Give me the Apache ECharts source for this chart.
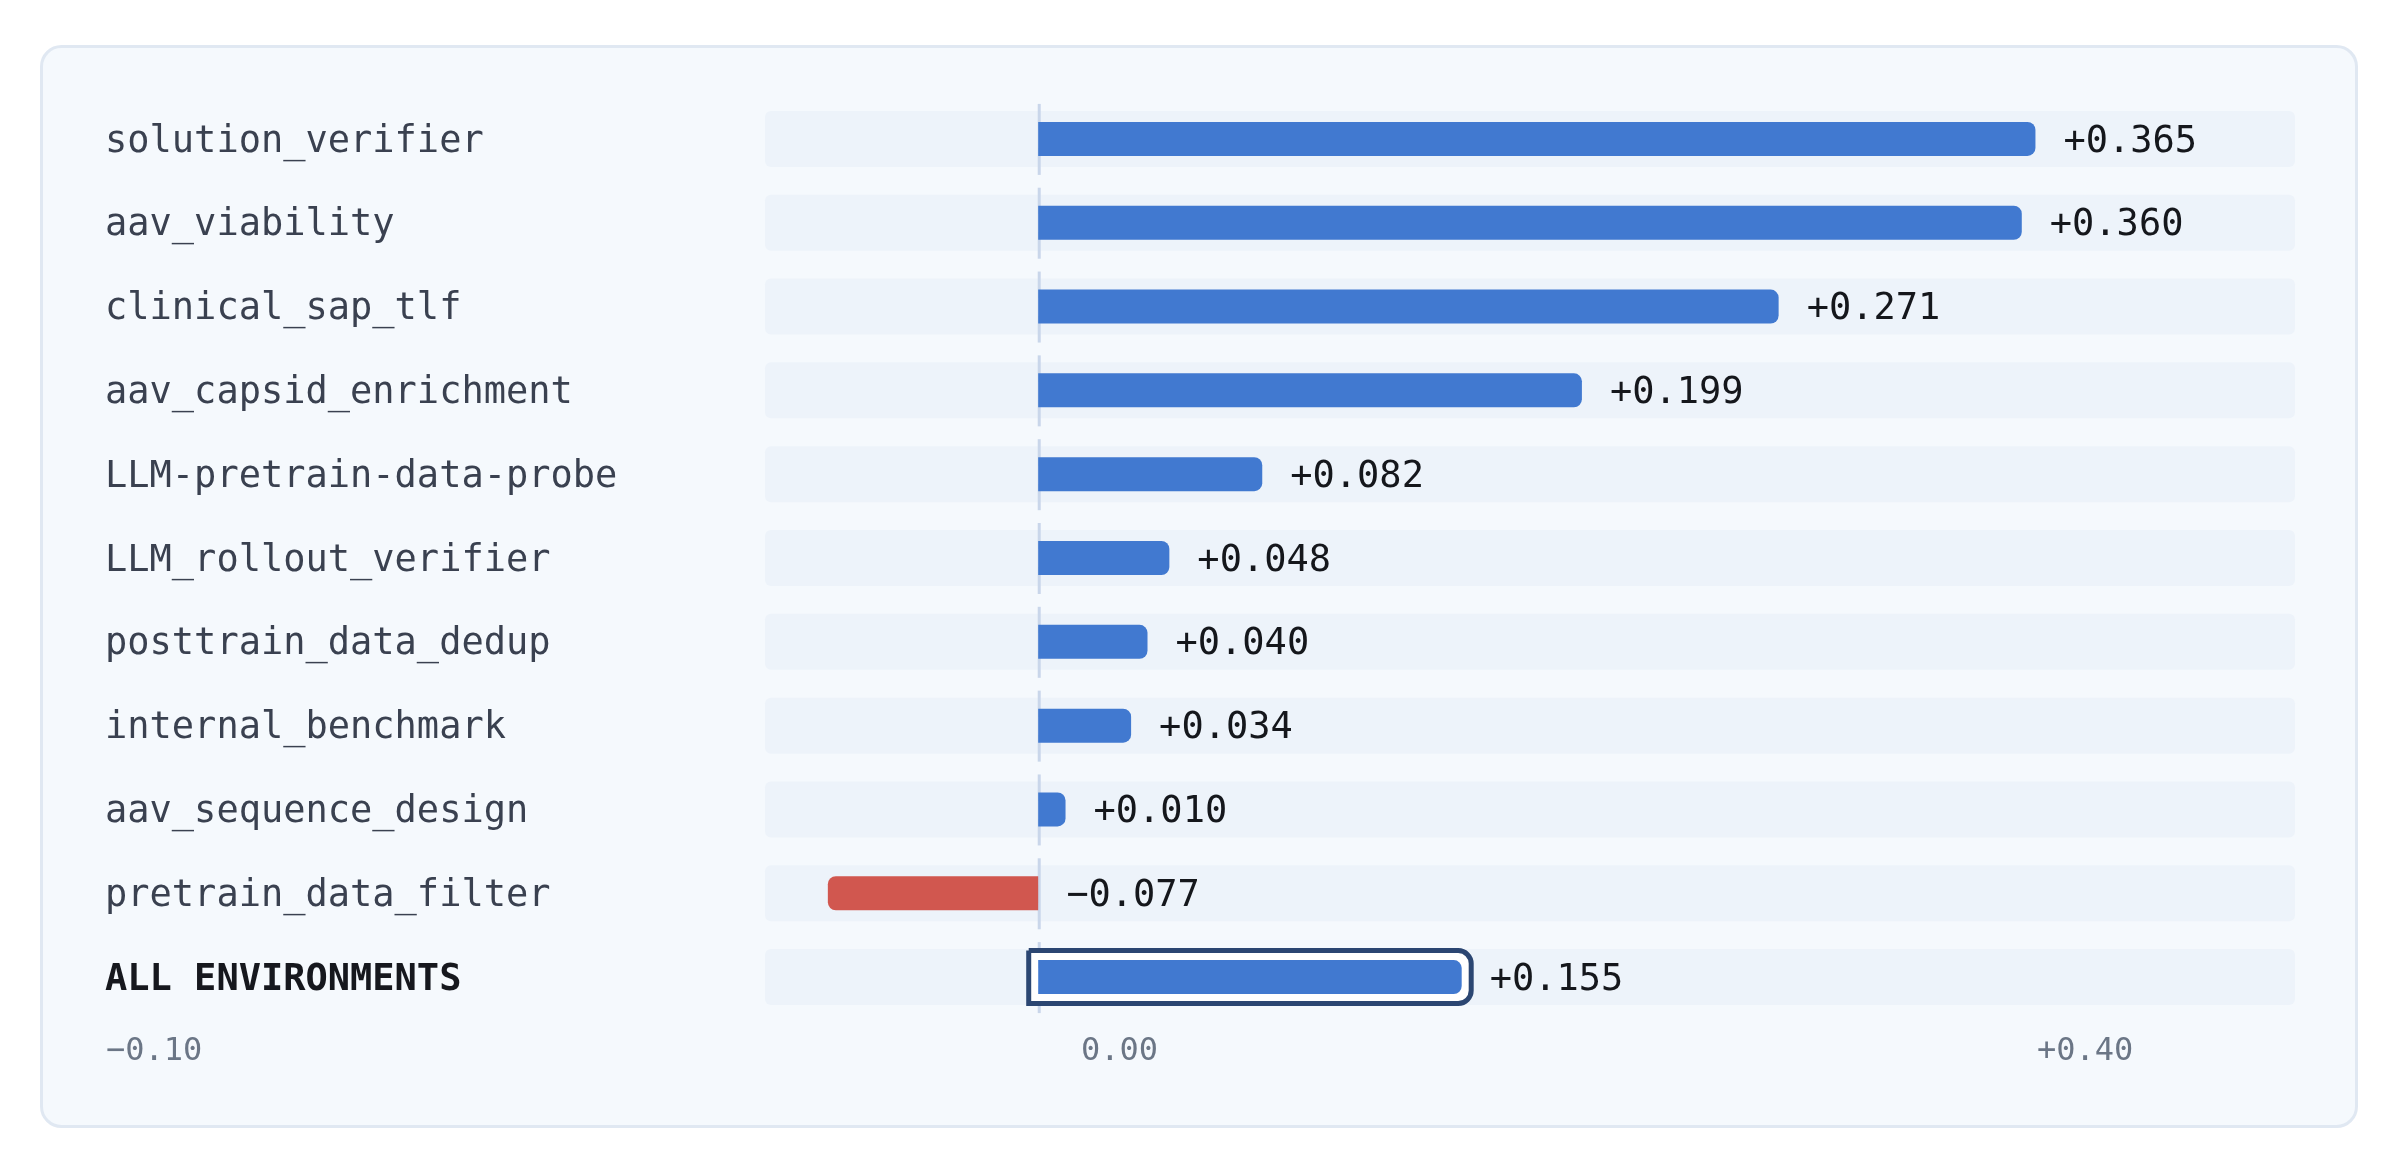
<!DOCTYPE html>
<html>
<head>
<meta charset="utf-8">
<script src="https://cdn.jsdelivr.net/npm/echarts@6/dist/echarts.min.js"></script>
<style>
html,body{margin:0;padding:0;background:#ffffff;}
#chart{width:2400px;height:1172px;}
</style>
</head>
<body>
<div id="chart"></div>
<script>
// ---- data ----
const categories = [
  'solution_verifier',
  'aav_viability',
  'clinical_sap_tlf',
  'aav_capsid_enrichment',
  'LLM-pretrain-data-probe',
  'LLM_rollout_verifier',
  'posttrain_data_dedup',
  'internal_benchmark',
  'aav_sequence_design',
  'pretrain_data_filter',
  'ALL ENVIRONMENTS'
];
const values = [0.365, 0.360, 0.271, 0.199, 0.082, 0.048, 0.040, 0.034, 0.010, -0.077, 0.155];
const valueLabels = ['+0.365', '+0.360', '+0.271', '+0.199', '+0.082', '+0.048', '+0.040', '+0.034', '+0.010', '\u22120.077', '+0.155'];
const tickLabels = ['\u22120.10', '0.00', '+0.40'];
const axisMin = -0.10;
const axisMax = 0.46;
const totalIndex = 10;

// ---- styles ----
const MONO = '"DejaVu Sans Mono", "Liberation Mono", monospace';
const BLUE = '#4179d0';
const RED = '#d1574f';
const NAVY = '#2b4672';

const chart = echarts.init(document.getElementById('chart'));

const rowData = categories.map((c, i) => [values[i], i]);

const option = {
  animation: false,
  backgroundColor: '#ffffff',
  grid: { left: 765, right: 105, top: 97, bottom: 153, containLabel: false },
  xAxis: {
    type: 'value', min: axisMin, max: axisMax, show: false
  },
  yAxis: {
    type: 'category', data: categories, inverse: true,
    axisLine: { show: false }, axisTick: { show: false }, splitLine: { show: false },
    axisLabel: {
      align: 'left', margin: 660,
      padding: [6, 0, 0, 0],
      fontFamily: MONO, fontSize: 37, color: '#3a4150',
      formatter: (v, i) => i === totalIndex ? '{b|' + v + '}' : v,
      rich: { b: { fontFamily: MONO, fontSize: 37, fontWeight: 'bold', color: '#16181e' } }
    }
  },
  graphic: [
    {
      type: 'rect', z: -10, silent: true,
      shape: { x: 41.5, y: 46.5, width: 2315, height: 1080, r: 20 },
      style: { fill: '#f5f9fd', stroke: '#e0e8f2', lineWidth: 3 }
    },
    {
      type: 'text', z: 10, left: 106, top: 1036,
      style: { text: tickLabels[0], font: '32px ' + MONO, fill: '#6b7686' }
    },
    {
      type: 'text', z: 10, left: 1081, top: 1036,
      style: { text: tickLabels[1], font: '32px ' + MONO, fill: '#6b7686' }
    },
    {
      type: 'text', z: 10, left: 2037, top: 1036,
      style: { text: tickLabels[2], font: '32px ' + MONO, fill: '#6b7686' }
    }
  ],
  series: [
    // tracks
    {
      type: 'custom', z: 1, silent: true,
      encode: { x: 0, y: 1 },
      data: rowData,
      renderItem: (params, api) => {
        const idx = api.value(1);
        const p0 = api.coord([axisMin, idx]);
        const p1 = api.coord([axisMax, idx]);
        const h = 56;
        return {
          type: 'rect',
          shape: { x: p0[0], y: p0[1] - h / 2, width: p1[0] - p0[0], height: h, r: 6 },
          style: { fill: '#edf3fa' }
        };
      }
    },
    // zero line segments
    {
      type: 'custom', z: 2, silent: true,
      encode: { x: 0, y: 1 },
      data: rowData,
      renderItem: (params, api) => {
        const idx = api.value(1);
        const p = api.coord([0, idx]);
        return {
          type: 'line',
          shape: { x1: p[0] + 1, y1: p[1] - 35, x2: p[0] + 1, y2: p[1] + 36 },
          style: { stroke: '#c9d6ea', lineWidth: 3 }
        };
      }
    },
    // outline for the total row
    {
      type: 'custom', z: 3, silent: true,
      encode: { x: 0, y: 1 },
      data: [rowData[totalIndex]],
      renderItem: (params, api) => {
        const v = api.value(0);
        const idx = api.value(1);
        const p0 = api.coord([0, idx]);
        const p1 = api.coord([v, idx]);
        const off = 9.5;
        return {
          type: 'rect',
          shape: { x: p0[0] - off, y: p0[1] - 17 - off, width: p1[0] - p0[0] + 2 * off, height: 34 + 2 * off, r: [0, 13, 13, 0] },
          style: { fill: '#ffffff', stroke: NAVY, lineWidth: 5 }
        };
      }
    },
    // bars
    {
      type: 'bar', z: 4, barWidth: 34, silent: true,
      data: values.map(v => ({
        value: v,
        itemStyle: {
          color: v < 0 ? RED : BLUE,
          borderRadius: v < 0 ? [8, 0, 0, 8] : [0, 8, 8, 0]
        }
      }))
    },
    // value labels
    {
      type: 'custom', z: 5, silent: true,
      encode: { x: 0, y: 1 },
      data: rowData,
      renderItem: (params, api) => {
        const v = api.value(0);
        const idx = api.value(1);
        const p = api.coord([Math.max(v, 0), idx]);
        return {
          type: 'text',
          x: p[0] + 28, y: p[1] + 3,
          style: {
            text: valueLabels[params.dataIndex],
            font: '37px ' + MONO, fill: '#15171c',
            align: 'left', verticalAlign: 'middle'
          }
        };
      }
    }
  ]
};
chart.setOption(option);
</script>
</body>
</html>
